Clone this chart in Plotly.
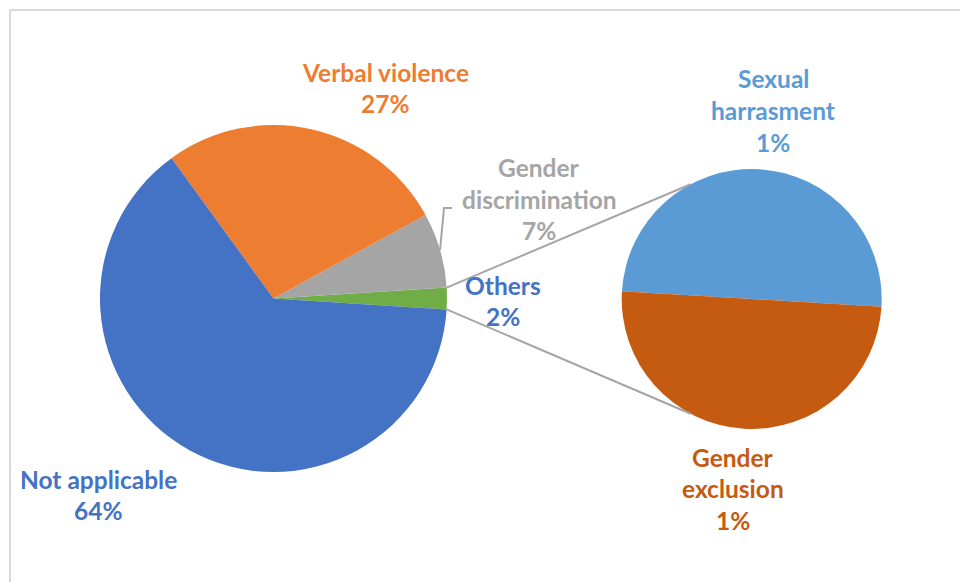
import math
import plotly.graph_objects as go

# ---------------- data ----------------
main_labels = ["Others", "Gender discrimination", "Verbal violence", "Not applicable"]
main_values = [2, 7, 27, 64]
sub_labels = ["Sexual harrasment", "Gender exclusion"]
sub_values = [1, 1]

# ---------------- style ----------------
W, H = 960, 582
main_colors = ["#70AD47", "#A5A5A5", "#ED7D31", "#4472C4"]
sub_colors = ["#5B9BD5", "#C55A11"]
main_text_colors = ["#4472C4", "#A5A5A5", "#ED7D31", "#4472C4"]
sub_text_colors = ["#5B9BD5", "#C55A11"]
FONT = "Lato"
FS = 24.5
LINE = 31.5

# geometry (pixels)
C1 = (273.5, 298.5); R1 = 173.5
C2 = (751.7, 299.0); R2 = 130.0
SUB_TILT = 3.4  # degrees the secondary split line is tilted


def px(x):
    return x / W


def py(y):
    return 1 - y / H


def dom(c, r):
    return dict(x=[px(c[0] - r), px(c[0] + r)], y=[py(c[1] + r), py(c[1] - r)])


total = sum(main_values)
others_half = 180.0 * main_values[0] / total
main_rot = 90 - others_half

sub_total = sum(sub_values)
sub_rot = 90 + SUB_TILT - 360.0 * sub_values[0] / sub_total

fig = go.Figure()
fig.add_trace(go.Pie(
    labels=main_labels, values=main_values, sort=False,
    direction="counterclockwise", rotation=main_rot,
    marker=dict(colors=main_colors, line=dict(width=0)),
    textinfo="none", hoverinfo="label+percent",
    domain=dom(C1, R1), showlegend=False,
))
fig.add_trace(go.Pie(
    labels=sub_labels, values=sub_values, sort=False,
    direction="counterclockwise", rotation=sub_rot,
    marker=dict(colors=sub_colors, line=dict(width=0)),
    textinfo="none", hoverinfo="label+percent",
    domain=dom(C2, R2), showlegend=False,
))


def on_circle(c, r, deg):
    a = math.radians(deg)
    return (c[0] + r * math.cos(a), c[1] - r * math.sin(a))


# connector lines from the "Others" slice to the secondary pie
p_top = on_circle(C1, R1, others_half)
p_bot = on_circle(C1, R1, -others_half)
q_top = on_circle(C2, R2, 118)
q_bot = on_circle(C2, R2, -118)
shapes = []
for p, q in [(p_top, q_top), (p_bot, q_bot)]:
    shapes.append(dict(type="line", xref="paper", yref="paper",
                       x0=px(p[0]), y0=py(p[1]), x1=px(q[0]), y1=py(q[1]),
                       line=dict(color="#A5A5A5", width=2)))

# leader line for Gender discrimination
gd_mid = others_half + 180.0 * main_values[1] / total
s = on_circle(C1, R1, gd_mid)
path = "M {:.4f},{:.4f} L {:.4f},{:.4f} L {:.4f},{:.4f}".format(
    px(s[0]), py(s[1]), px(444), py(208), px(452), py(208))
shapes.append(dict(type="path", xref="paper", yref="paper", path=path,
                   line=dict(color="#A5A5A5", width=2)))

# chart-area border (cut off at right and bottom)
shapes.append(dict(type="line", xref="paper", yref="paper",
                   x0=px(10), y0=py(10), x1=1.0, y1=py(10),
                   line=dict(color="#D9D9D9", width=2)))
shapes.append(dict(type="line", xref="paper", yref="paper",
                   x0=px(10), y0=py(10), x1=px(10), y1=0,
                   line=dict(color="#D9D9D9", width=2)))

# label placement: (center x, first line center y, wrap words)
main_label_pos = [(503, 285, False), (539, 168, True), (385, 72, False), (98, 479, False)]
sub_label_pos = [(773, 79, True), (733, 457, True)]

annotations = []


def add_label(label, pct, color, pos):
    x, y0, wrap = pos
    lines = label.split(" ") if wrap else [label]
    lines = lines + ["{:.0f}%".format(pct)]
    for i, t in enumerate(lines):
        annotations.append(dict(
            x=px(x), y=py(y0 + i * LINE), xref="paper", yref="paper",
            text=t, showarrow=False, xanchor="center", yanchor="middle",
            font=dict(family=FONT, size=FS, color=color, weight="bold"),
        ))


for lab, v, col, pos in zip(main_labels, main_values, main_text_colors, main_label_pos):
    add_label(lab, 100.0 * v / total, col, pos)
grand = total
others_share = main_values[0]
for lab, v, col, pos in zip(sub_labels, sub_values, sub_text_colors, sub_label_pos):
    add_label(lab, 100.0 * others_share * v / sub_total / grand, col, pos)

fig.update_layout(
    width=W, height=H,
    margin=dict(l=0, r=0, t=0, b=0),
    paper_bgcolor="white", plot_bgcolor="white",
    shapes=shapes, annotations=annotations,
    showlegend=False,
)

fig.write_html("out.html", config={"displayModeBar": False},
               post_script="document.body.style.margin='0px';")
